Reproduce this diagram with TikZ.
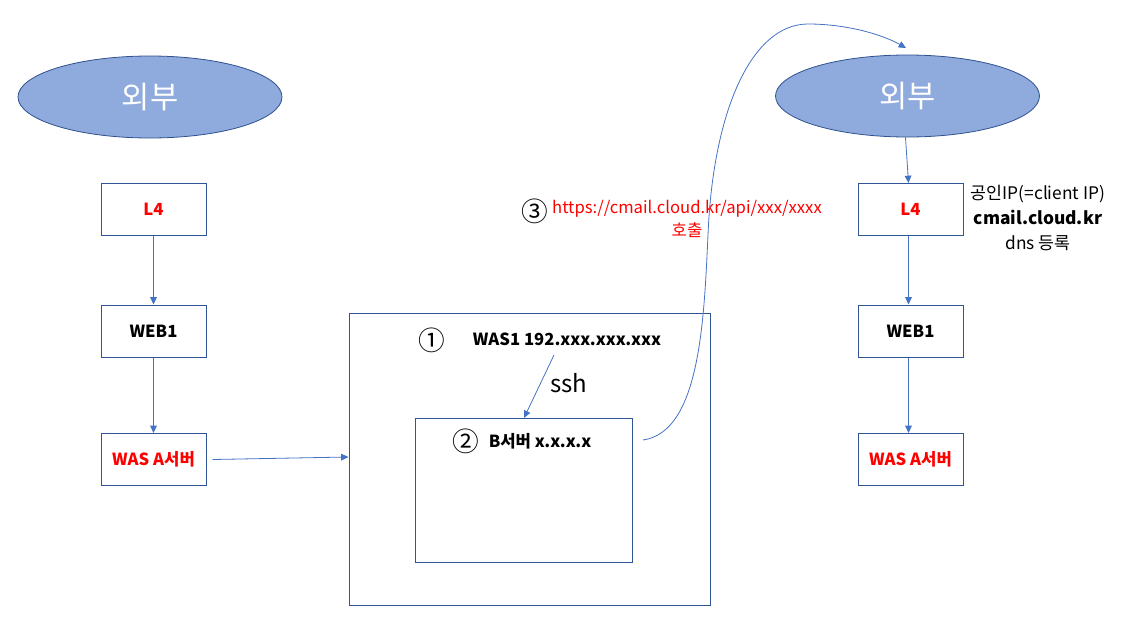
\documentclass[tikz,border=0pt]{standalone}
\usepackage{fontspec}
\setmainfont{Noto Sans CJK KR}
\usetikzlibrary{arrows.meta,shapes.geometric}
\definecolor{efill}{HTML}{8FAADC}
\definecolor{eline}{HTML}{2F528F}
\definecolor{bline}{HTML}{2F5597}
\definecolor{aline}{HTML}{4472C4}
\definecolor{myred}{HTML}{FF0000}
\tikzset{
  ext/.style={ellipse,draw=eline,fill=efill,line width=0.6pt,minimum width=198pt,minimum height=61.5pt,inner sep=0pt,text=white,font=\fontsize{23}{25}\selectfont},
  sbox/.style={draw=bline,line width=0.75pt,minimum width=78.75pt,minimum height=39pt,inner sep=0pt,font=\bfseries\fontsize{12.5}{14}\selectfont},
  conn/.style={draw=aline,line width=0.6pt,-{Triangle[width=5pt,length=5.5pt]}},
  lbl/.style={font=\fontsize{12.5}{14}\selectfont,inner sep=0pt},
  tight/.style={text height=9pt,text depth=2pt},
  circ/.style={font=\fontsize{20}{22}\selectfont,inner sep=0pt}
}
\begin{document}
\begin{tikzpicture}[x=0.75pt,y=-0.75pt]
\useasboundingbox (0,0) rectangle (1122,632);
% ellipses
\node[ext] (e1) at (150,97) {외부};
\node[ext] (e2) at (907.5,96) {외부};
% left column
\node[sbox,text=myred] (l4a) at (153.5,209) {L4};
\node[sbox] (w1a) at (153.5,331) {WEB1};
\node[sbox,text=myred] (wa) at (153.5,459.5) {WAS A서버};
% right column
\node[sbox,text=myred] (l4b) at (910.5,209.5) {L4};
\node[sbox] (w1b) at (910.5,331) {WEB1};
\node[sbox,text=myred] (wb) at (910.5,459.5) {WAS A서버};
% big boxes
\node[draw=bline,line width=0.75pt,minimum width=270.75pt,minimum height=219pt,inner sep=0pt] (big) at (529.5,459) {};
\node[draw=bline,line width=0.75pt,minimum width=162.75pt,minimum height=108pt,inner sep=0pt] (inner) at (523.5,490) {};
% texts in big box
\node[circ] (c1) at (432,340) {①};
\node[lbl,font=\bfseries\fontsize{12.5}{14}\selectfont] (was1) at (567,339) {WAS1 192.xxx.xxx.xxx};
\node[circ] (c2) at (466,441) {②};
\node[lbl,font=\bfseries\fontsize{12.5}{14}\selectfont] (bsv) at (540,441) {B서버 x.x.x.x};
\node[lbl,font=\fontsize{18}{20}\selectfont] (ssh) at (569,383) {ssh};
% annotation 3
\node[circ] (c3) at (535,211) {③};
\node[lbl,text=myred,align=center,font=\fontsize{12.5}{17}\selectfont] (url) at (687,219) {https://cmail.cloud.kr/api/xxx/xxxx\\호출};
% right annotation
\node[lbl,align=center,font=\fontsize{13}{19}\selectfont] (pub) at (1038,218) {공인IP(=client IP)\\\textbf{cmail.cloud.kr}\\dns 등록};
% coordinates
\coordinate (sshs) at (554,355);
\coordinate (sshe) at (524,418);
\coordinate (cs) at (643,440);
\coordinate (ce) at (906,48);
% connectors
\draw[conn] (l4a.south) -- (w1a.north);
\draw[conn] (w1a.south) -- (wa.north);
\draw[conn] ([xshift=4.5pt]wa.east) -- ([yshift=1.5pt]big.west);
\draw[conn] ([xshift=-1.5pt]e2.south) -- ([xshift=-1.5pt]l4b.north);
\draw[conn] ([xshift=-1.5pt]l4b.south) -- ([xshift=-1.5pt]w1b.north);
\draw[conn] ([xshift=-1.5pt]w1b.south) -- ([xshift=-1.5pt]wb.north);
\draw[conn] (sshs) -- (sshe);
\draw[conn] (cs) .. controls (700,432) and (704,320) .. (708,235) .. controls (713,110) and (752,24) .. (808,24) .. controls (850,24) and (885,36) .. (ce);
\end{tikzpicture}
\end{document}
